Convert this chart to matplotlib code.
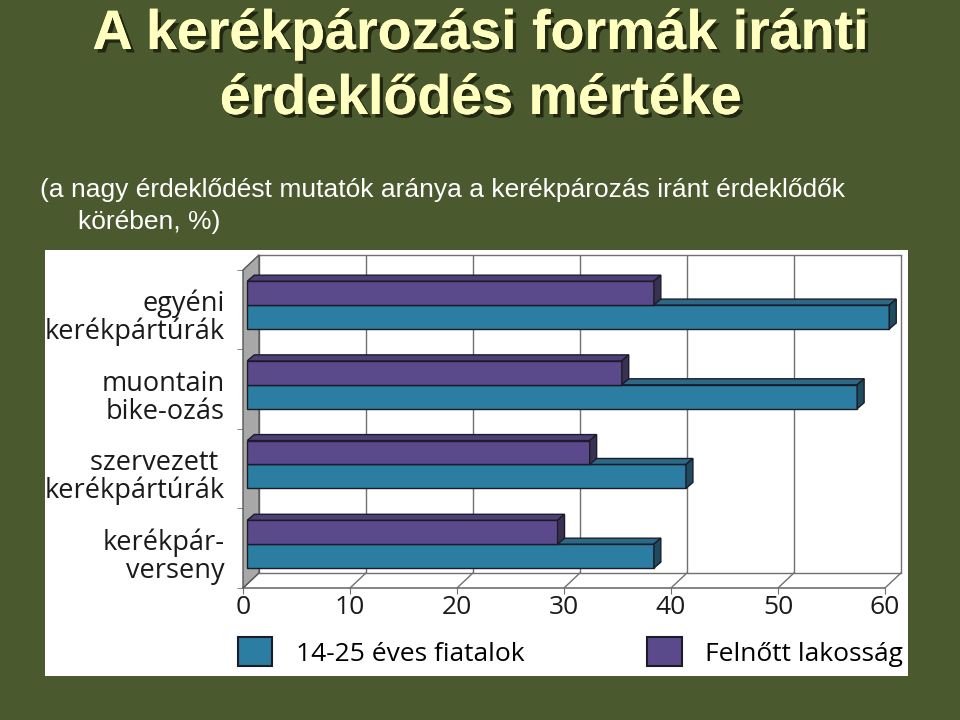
import matplotlib.pyplot as plt
from matplotlib.patches import Polygon, Patch, Rectangle
import matplotlib.patheffects as pe

# data
categories = ['egyéni\nkerékpártúrák', 'muontain\nbike-ozás',
              'szervezett \nkerékpártúrák', 'kerékpár-\nverseny']
fiatalok = [60, 57, 41, 38]
felnott = [38, 35, 32, 29]
series_names = ['14-25 éves fiatalok', 'Felnőtt lakosság']
xticks = [0, 10, 20, 30, 40, 50, 60]

title_lines = ['A kerékpározási formák iránti', 'érdeklődés mértéke']
subtitle1 = '(a nagy érdeklődést mutatók aránya a kerékpározás iránt érdeklődők'
subtitle2 = 'körében, %)'

bg = '#4b5a2e'
teal = ('#2b7ea2', '#2a6a86', '#1f4b5f')     # front, top, side
purple = ('#5b4a8b', '#4d3f78', '#3a3052')
edge = '#1c1c28'
grid = '#707070'

chart_font = ['Open Sans', 'DejaVu Sans']
slide_font = ['Liberation Sans', 'DejaVu Sans']

fig = plt.figure(figsize=(9.6, 7.2), dpi=100)
fig.patch.set_facecolor(bg)

# white chart panel
fig.patches.append(Rectangle((45 / 960, 44 / 720), 863 / 960, 426 / 720,
                             transform=fig.transFigure, facecolor='white',
                             edgecolor='none', zorder=-1))

shadow = [pe.withSimplePatchShadow(offset=(2.5, -2.5), shadow_rgbFace='#1e220e', alpha=0.9),
          pe.Normal()]
for ypx, line in zip([35, 100], title_lines):
    fig.text(0.5, 1 - ypx / 720, line, ha='center', va='center', fontsize=40,
             fontweight='bold', color='#ffffc0', family=slide_font,
             path_effects=shadow)
fig.text(40 / 960, 1 - 190 / 720, subtitle1, ha='left', va='center',
         fontsize=19, color='white', family=slide_font)
fig.text(78 / 960, 1 - 222 / 720, subtitle2, ha='left', va='center',
         fontsize=19, color='white', family=slide_font)

# plot area, pseudo 3D
ymin, ymax = -0.55, 3.70
ax = fig.add_axes([243 / 960, 132 / 720, 62 * 10.7 / 960,
                   (ymax - ymin) * 79.7 / 720])
ax.set_facecolor('none')
ax.set_xlim(0, 62)
ax.set_ylim(ymin, ymax)
for s in ax.spines.values():
    s.set_visible(False)

dx, dy = 1.5, 0.19          # wall depth
top = 3.63
floor = ymin
back_floor = floor + dy

# back wall grid
ax.vlines([v + dx for v in xticks], back_floor, top, color=grid, lw=1, zorder=1)
ax.plot([dx, xticks[-1] + dx], [top, top], color=grid, lw=1, zorder=1, clip_on=False)
ax.plot([dx, xticks[-1] + dx], [back_floor, back_floor], color=grid, lw=1, zorder=1)
# floor
ax.plot([0, xticks[-1]], [floor, floor], color=grid, lw=1.2, zorder=1, clip_on=False)
for v in xticks:
    ax.plot([v, v + dx], [floor, back_floor], color=grid, lw=1, zorder=1, clip_on=False)
# left wall
ax.add_patch(Polygon([(0, floor), (dx, back_floor), (dx, top), (0, top - dy)],
                     closed=True, facecolor='#a8a8a8', edgecolor='#555555',
                     lw=1, zorder=2, clip_on=False))

# bars
ypos = [3, 2, 1, 0]
h = 0.3
x0 = 0.4
bdx, bdy = 0.65, 0.075


def bar3d(y_bottom, value, cols, z):
    front, topc, side = cols
    ax.barh(y_bottom + h / 2, value, h, left=x0, color=front, edgecolor=edge,
            lw=1, zorder=z)
    r = x0 + value
    yt = y_bottom + h
    ax.add_patch(Polygon([(x0, yt), (x0 + bdx, yt + bdy), (r + bdx, yt + bdy), (r, yt)],
                         closed=True, facecolor=topc, edgecolor=edge, lw=1, zorder=z))
    ax.add_patch(Polygon([(r, y_bottom), (r + bdx, y_bottom + bdy), (r + bdx, yt + bdy), (r, yt)],
                         closed=True, facecolor=side, edgecolor=edge, lw=1, zorder=z))


for y, vf, va in zip(ypos, fiatalok, felnott):
    bar3d(y - h, vf, teal, 3)
    bar3d(y, va, purple, 4)

# category labels
for y, lab in zip(ypos, categories):
    ax.text(-1.7, y - 0.16, lab, ha='right', va='center', fontsize=19.5,
            family=chart_font, color='#1a1a1a', linespacing=1.0)

ax.set_yticks([])
ax.set_yticks([3.44, 2.45, 1.44, 0.45, floor], minor=True)
ax.tick_params(axis='y', which='minor', length=4, color=grid, labelleft=False)
ax.set_xticks(xticks)
ax.set_xticklabels([str(v) for v in xticks], fontsize=19, family=chart_font,
                   color='#1a1a1a')
ax.tick_params(axis='x', length=4, color=grid, pad=1)

handles = [Patch(facecolor=teal[0], edgecolor=edge, lw=1.5),
           Patch(facecolor=purple[0], edgecolor=edge, lw=1.5)]
fig.legend(handles, series_names, loc='center left',
           bbox_to_anchor=(238 / 960, 1 - 652 / 720), ncol=2, frameon=False,
           handlelength=1.3, handleheight=1.3, handletextpad=0.9,
           columnspacing=4.65, borderpad=0, borderaxespad=0,
           prop={'family': chart_font, 'size': 19})

fig.savefig('out.png', dpi=100, facecolor=bg)
